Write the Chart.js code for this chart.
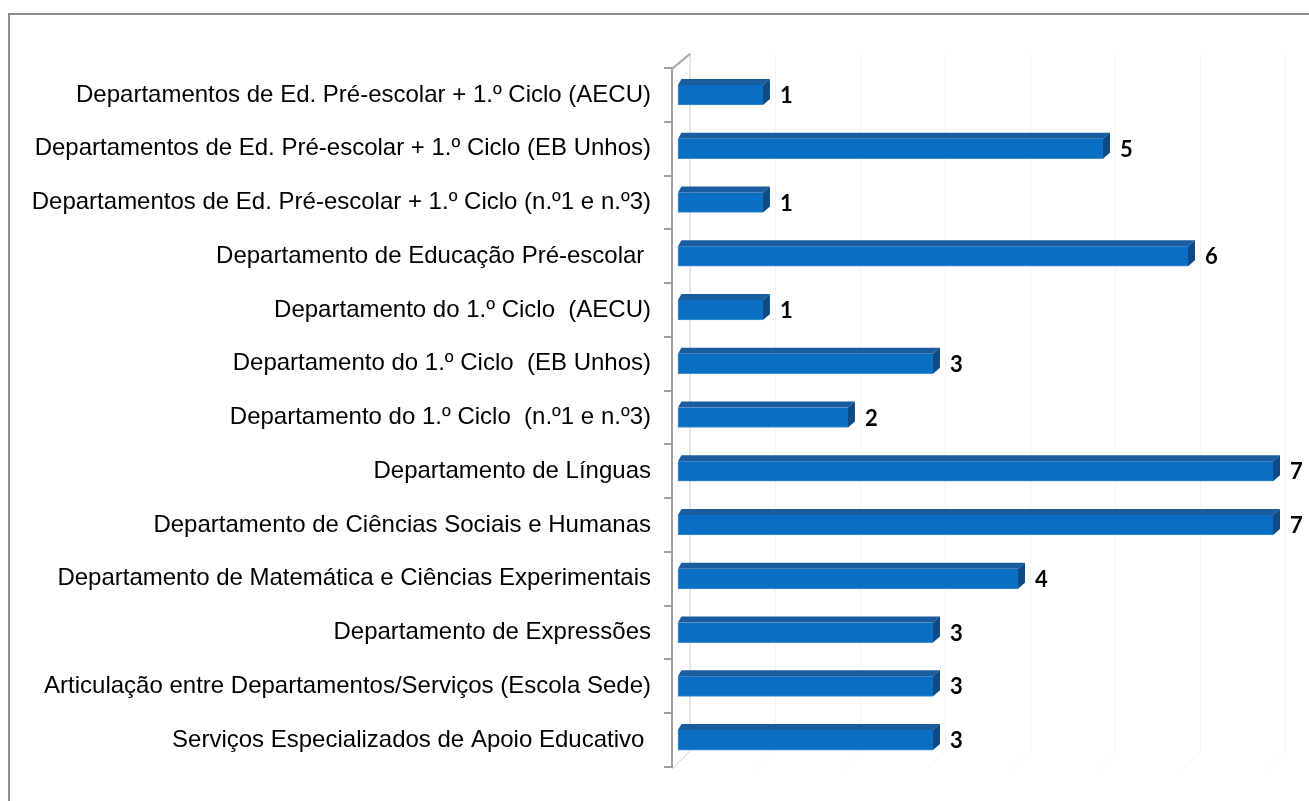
<!DOCTYPE html>
<html lang="pt">
<head>
  <meta charset="UTF-8"/>
  <title>Departamentos</title>
  <script src="https://cdn.jsdelivr.net/npm/chart.js"></script>
  <style>
    body { margin: 0; background: #fff; }
    #wrap { position: relative; width: 1309px; height: 801px; overflow: hidden; }
    #frame { position: absolute; left: 8px; top: 13px; width: 1320px; height: 820px; border: 2px solid #8e8e8e; }
    #chart { position: absolute; left: 0; top: 0; }
  </style>
</head>
<body>
  <div id="wrap">
    <div id="frame"></div>
    <canvas id="chart" width="1309" height="801"></canvas>
  </div>

  <script>
    const categories = [
      'Departamentos de Ed. Pré-escolar + 1.º Ciclo (AECU)',
      'Departamentos de Ed. Pré-escolar + 1.º Ciclo (EB Unhos)',
      'Departamentos de Ed. Pré-escolar + 1.º Ciclo (n.º1 e n.º3)',
      'Departamento de Educação Pré-escolar ',
      'Departamento do 1.º Ciclo  (AECU)',
      'Departamento do 1.º Ciclo  (EB Unhos)',
      'Departamento do 1.º Ciclo  (n.º1 e n.º3)',
      'Departamento de Línguas',
      'Departamento de Ciências Sociais e Humanas',
      'Departamento de Matemática e Ciências Experimentais',
      'Departamento de Expressões',
      'Articulação entre Departamentos/Serviços (Escola Sede)',
      'Serviços Especializados de Apoio Educativo '
    ];
    const values = [1, 5, 1, 6, 1, 3, 2, 7, 7, 4, 3, 3, 3];
    const gridValues = [1, 2, 3, 4, 5, 6, 7];

    // depth of the 3d look
    const DX = 7, DY = 6;
    const WALL = 18;

    const wallPlugin = {
      id: 'wall',
      beforeDatasetsDraw(chart) {
        const { ctx, chartArea: a, scales: { x } } = chart;
        ctx.save();
        // faint grid lines on the back wall
        ctx.strokeStyle = '#f3f3f3';
        ctx.lineWidth = 1;
        gridValues.forEach(v => {
          const px = Math.round(x.getPixelForValue(v)) + 12.5;
          ctx.beginPath();
          ctx.moveTo(px, a.top - 14);
          ctx.lineTo(px, a.bottom - 16);
          ctx.lineTo(px - WALL, a.bottom + 2);
          ctx.stroke();
        });
        // side wall
        ctx.strokeStyle = '#cfcfcf';
        ctx.beginPath();
        ctx.moveTo(a.left, a.top);
        ctx.lineTo(a.left + WALL, a.top - 15);
        ctx.lineTo(a.left + WALL, a.bottom - 16);
        ctx.lineTo(a.left, a.bottom + 2);
        ctx.stroke();
        ctx.strokeStyle = '#a8a8a8';
        ctx.lineWidth = 2;
        ctx.beginPath();
        ctx.moveTo(a.left, a.top + 1);
        ctx.lineTo(a.left + WALL, a.top - 14);
        ctx.stroke();
        ctx.restore();
      },
      afterDatasetsDraw(chart) {
        const { ctx } = chart;
        const meta = chart.getDatasetMeta(0);
        ctx.save();
        meta.data.forEach((bar, i) => {
          const top = bar.y - bar.height / 2;
          const bottom = bar.y + bar.height / 2;
          // top face
          ctx.fillStyle = '#1a5c9e';
          ctx.beginPath();
          ctx.moveTo(bar.base, top);
          ctx.lineTo(bar.base + DX * 0.5, top - DY);
          ctx.lineTo(bar.x + DX, top - DY);
          ctx.lineTo(bar.x, top);
          ctx.closePath();
          ctx.fill();
          // side face
          ctx.fillStyle = '#0e4a84';
          ctx.beginPath();
          ctx.moveTo(bar.x, top);
          ctx.lineTo(bar.x + DX, top - DY);
          ctx.lineTo(bar.x + DX, bottom - DY);
          ctx.lineTo(bar.x, bottom);
          ctx.closePath();
          ctx.fill();
          // value label
          ctx.fillStyle = '#000';
          ctx.font = 'bold 22px Lato, "Open Sans", sans-serif';
          ctx.textAlign = 'left';
          ctx.textBaseline = 'middle';
          ctx.fillText(String(values[i]), bar.x + DX + 10, bar.y + 1);
        });
        ctx.restore();
      }
    };

    new Chart(document.getElementById('chart'), {
      type: 'bar',
      data: {
        labels: categories,
        datasets: [{
          data: values,
          backgroundColor: '#0a6fc2',
          borderColor: '#3d8fd4',
          borderWidth: { left: 1, bottom: 1, top: 0, right: 0 },
          borderSkipped: false,
          barThickness: 20
        }]
      },
      options: {
        indexAxis: 'y',
        responsive: false,
        animation: false,
        events: [],
        layout: { padding: { top: 68, bottom: 34, right: 36, left: 0 } },
        plugins: { legend: { display: false }, tooltip: { enabled: false } },
        scales: {
          x: {
            display: false,
            min: -0.07,
            max: 7,
            ticks: { stepSize: 1 }
          },
          y: {
            afterFit(scale) { scale.width = 672; },
            border: { display: true, color: '#a0a0a0', width: 2 },
            grid: { display: true, drawOnChartArea: false, tickLength: 8, color: '#a0a0a0', lineWidth: 2 },
            ticks: {
              color: '#000',
              padding: 13,
              font: { family: '"Liberation Sans", Arial, sans-serif', size: 24 }
            }
          }
        }
      },
      plugins: [wallPlugin]
    });
  </script>
</body>
</html>
